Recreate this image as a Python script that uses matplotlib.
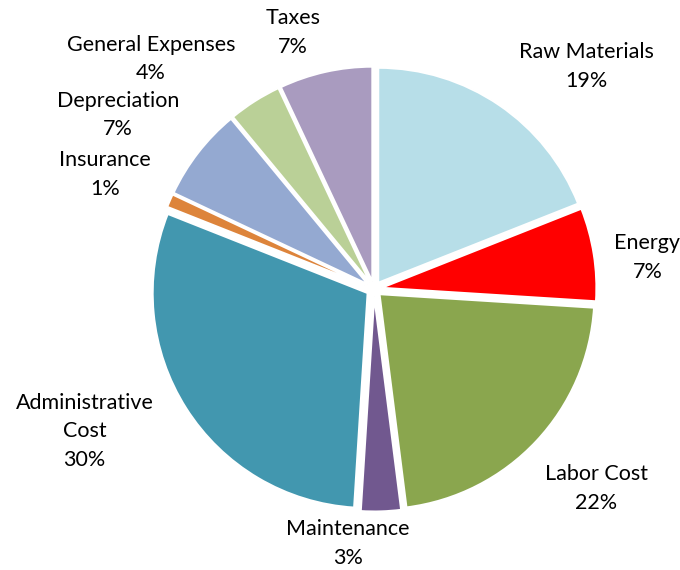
import matplotlib.pyplot as plt
import numpy as np

categories = ['Raw Materials', 'Energy', 'Labor Cost', 'Maintenance',
              'Administrative\nCost', 'Insurance', 'Depreciation',
              'General Expenses', 'Taxes']
shares = [19, 7, 22, 3, 30, 1, 7, 4, 7]
colors = ['#B7DEE8', '#FF0000', '#8AA64E', '#71588F', '#4297AF',
          '#DD843B', '#94A9D1', '#BAD097', '#A99BBF']

# label placement relative to each wedge (radius units, degrees)
label_dist = [1.43, 1.28, 1.39, 1.19, 1.50, 1.36, 1.44, 1.49, 1.25]
label_shift = [-9.4, -2.5, 1.3, -7.6, -6.2, 0.4, 3.6, 11.7, 5.0]

plt.rcParams['font.family'] = ['Lato', 'DejaVu Sans']

fig = plt.figure(figsize=(6.8, 5.7), dpi=100)
ax = fig.add_axes([0, 0, 1, 1])

R = 215.0
wedges, _ = ax.pie(shares, colors=colors, startangle=90, counterclock=False,
                   explode=[0.035] * len(shares), radius=1,
                   wedgeprops=dict(edgecolor='white', linewidth=1.5))

for w, name, val, d, s in zip(wedges, categories, shares, label_dist, label_shift):
    mid = np.deg2rad((w.theta1 + w.theta2) / 2 + s)
    ax.text(d * np.cos(mid), d * np.sin(mid), f'{name}\n{val}%',
            ha='center', va='center', fontsize=15.5, linespacing=1.55,
            color='black')

ax.set_xlim(-374 / R, 306 / R)
ax.set_ylim(-281 / R, 289 / R)
ax.set_aspect('equal')
ax.axis('off')

fig.savefig('out.png', dpi=100)
